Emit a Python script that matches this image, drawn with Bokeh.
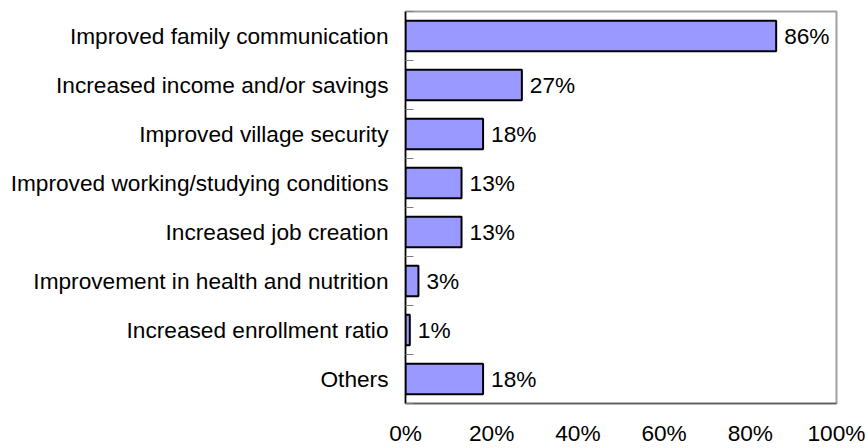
from bokeh.plotting import figure
from bokeh.models import Range1d, FixedTicker, LinearAxis
from bokeh.core.properties import value
from bokeh.embed import file_html
from bokeh.resources import INLINE

categories = [
    "Improved family communication",
    "Increased income and/or savings",
    "Improved village security",
    "Improved working/studying conditions",
    "Increased job creation",
    "Improvement in health and nutrition",
    "Increased enrollment ratio",
    "Others",
]
percentages = [86, 27, 18, 13, 13, 3, 1, 18]
x_ticks = [0, 20, 40, 60, 80, 100]
x_tick_labels = ["0%", "20%", "40%", "60%", "80%", "100%"]

FONT = "Liberation Sans"
FSIZE = "17pt"
n = len(categories)
ys = [n - 1 - i for i in range(n)]
bar_labels = [f"{v}%" for v in percentages]

p = figure(
    width=868, height=448,
    x_range=Range1d(0, 100), y_range=Range1d(-0.5, n - 0.5),
    output_backend="svg", toolbar_location=None,
    min_border_left=405, min_border_right=32,
    min_border_top=11, min_border_bottom=45,
    x_axis_type=None, y_axis_type=None,
)
p.background_fill_color = "white"
p.border_fill_color = "white"
p.outline_line_color = "#a0a0a0"
p.outline_line_width = 2

# x axis
xaxis = LinearAxis(ticker=FixedTicker(ticks=x_ticks))
xaxis.major_label_overrides = {t: l for t, l in zip(x_ticks, x_tick_labels)}
xaxis.major_tick_line_color = None
xaxis.minor_tick_line_color = None
xaxis.axis_line_color = "#606060"
xaxis.axis_line_width = 1.5
xaxis.major_label_text_font = FONT
xaxis.major_label_text_font_size = FSIZE
xaxis.major_label_text_color = "black"
xaxis.major_label_standoff = 10
p.add_layout(xaxis, "below")

# y axis
yaxis = LinearAxis(ticker=FixedTicker(ticks=ys, minor_ticks=[y + 0.5 for y in range(-1, n)]))
yaxis.major_label_overrides = {y: c for y, c in zip(ys, categories)}
yaxis.major_tick_line_color = None
yaxis.minor_tick_line_color = "#808080"
yaxis.minor_tick_in = 8
yaxis.minor_tick_out = 0
yaxis.axis_line_color = "black"
yaxis.axis_line_width = 1.5
yaxis.major_label_text_font = FONT
yaxis.major_label_text_font_size = FSIZE
yaxis.major_label_text_color = "black"
yaxis.major_label_standoff = 11
p.add_layout(yaxis, "left")

p.xgrid.ticker = FixedTicker(ticks=[20, 40, 60, 80])
p.xgrid.grid_line_color = "#404040"
p.xgrid.grid_line_width = 1
p.ygrid.grid_line_color = None

p.hbar(y=ys, right=percentages, left=0, height=0.62,
       fill_color="#9999ff", line_color="black", line_width=2)

p.text(x=percentages, y=ys, text=bar_labels, x_offset=8,
       text_baseline="middle", text_align="left",
       text_font=value(FONT), text_font_size=FSIZE, text_color="black")

open("out.html", "w").write(file_html(p, INLINE))
